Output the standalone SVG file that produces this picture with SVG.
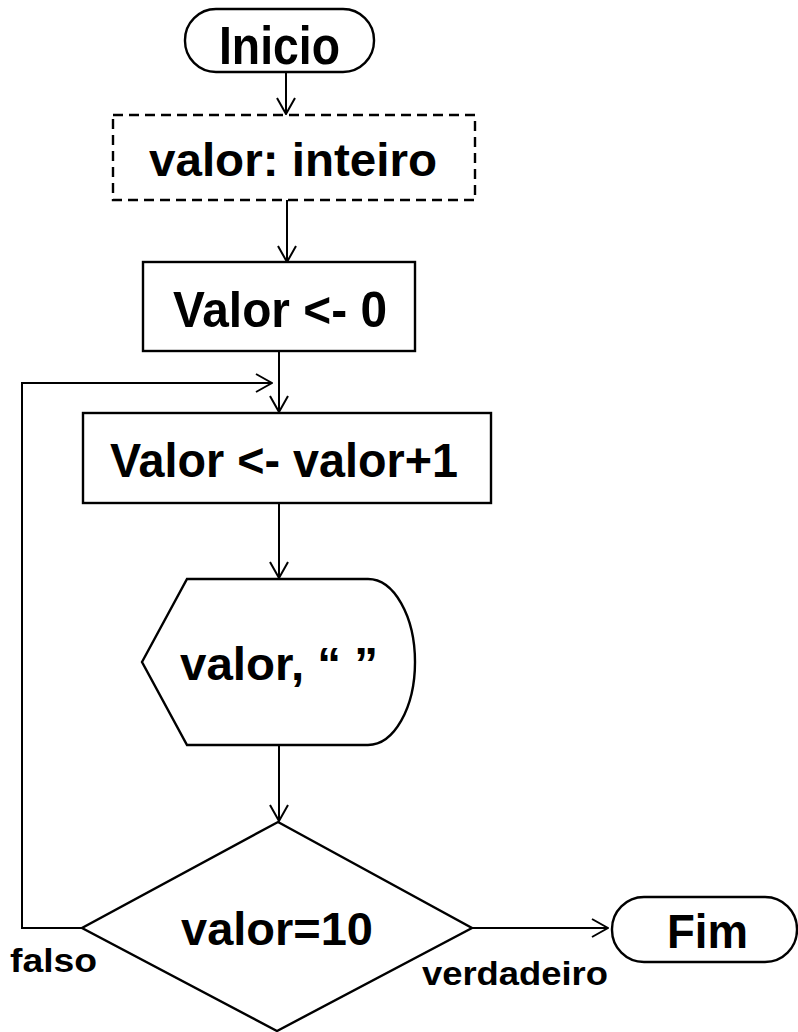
<svg xmlns="http://www.w3.org/2000/svg" width="798" height="1032" viewBox="0 0 798 1032">
<style>
.s{fill:#fff;stroke:#000;stroke-width:2.4}
.d{fill:#fff;stroke:#000;stroke-width:2.4;stroke-dasharray:10 6}
.c{fill:none;stroke:#000;stroke-width:2}
.t{font-family:"Liberation Sans",Arial,sans-serif;font-weight:bold;fill:#000}
</style>
<defs>
<marker id="ah" viewBox="0 0 18 20" refX="17" refY="10" markerWidth="18" markerHeight="20" markerUnits="userSpaceOnUse" orient="auto">
<path d="M1,1 L17,10 L1,19" fill="none" stroke="#000" stroke-width="2"/>
</marker>
</defs>
<rect width="798" height="1032" fill="#fff"/>
<g id="connectors">
<line class="c" x1="286" y1="72" x2="286" y2="114" marker-end="url(#ah)"/>
<line class="c" x1="287" y1="200" x2="287" y2="262" marker-end="url(#ah)"/>
<line class="c" x1="279" y1="351" x2="279" y2="412" marker-end="url(#ah)"/>
<line class="c" x1="279" y1="503" x2="279" y2="578" marker-end="url(#ah)"/>
<line class="c" x1="279" y1="745" x2="279" y2="821" marker-end="url(#ah)"/>
<polyline class="c" points="82,928 22,928 22,383 272,383" marker-end="url(#ah)"/>
<line class="c" x1="472" y1="928" x2="608" y2="928" marker-end="url(#ah)"/>
<text class="t" x="10" y="972" font-size="34" textLength="87" lengthAdjust="spacingAndGlyphs">falso</text>
<text class="t" x="422" y="985" font-size="34" textLength="186" lengthAdjust="spacingAndGlyphs">verdadeiro</text>
</g>
<g id="inicio">
<rect class="s" x="185" y="9" width="189" height="63" rx="31" ry="31"/>
<text class="t" x="219" y="64" font-size="53" textLength="121" lengthAdjust="spacingAndGlyphs">Inicio</text>
</g>
<g id="decl">
<rect class="d" x="113" y="115" width="362" height="85"/>
<text class="t" x="149" y="176" font-size="47" textLength="288" lengthAdjust="spacingAndGlyphs">valor: inteiro</text>
</g>
<g id="init">
<rect class="s" x="143" y="262" width="272" height="89"/>
<text class="t" x="173" y="327" font-size="50" textLength="214" lengthAdjust="spacingAndGlyphs">Valor &lt;- 0</text>
</g>
<g id="incr">
<rect class="s" x="83" y="413" width="408" height="90"/>
<text class="t" x="110" y="477" font-size="49" textLength="348" lengthAdjust="spacingAndGlyphs">Valor &lt;- valor+1</text>
</g>
<g id="display">
<path class="s" d="M142,662 L187,579 L368,579 A47,83 0 0 1 368,745 L187,745 Z"/>
<text class="t" x="180" y="680" font-size="46" textLength="198" lengthAdjust="spacingAndGlyphs">valor, “ ”</text>
</g>
<g id="decision">
<polygon class="s" points="278,822 472,928 277,1031 82,928"/>
<text class="t" x="181" y="945" font-size="46" textLength="192" lengthAdjust="spacingAndGlyphs">valor=10</text>
</g>
<g id="fim">
<rect class="s" x="612" y="897" width="185" height="65" rx="32" ry="32"/>
<text class="t" x="667" y="948" font-size="49" textLength="81" lengthAdjust="spacingAndGlyphs">Fim</text>
</g>
</svg>
